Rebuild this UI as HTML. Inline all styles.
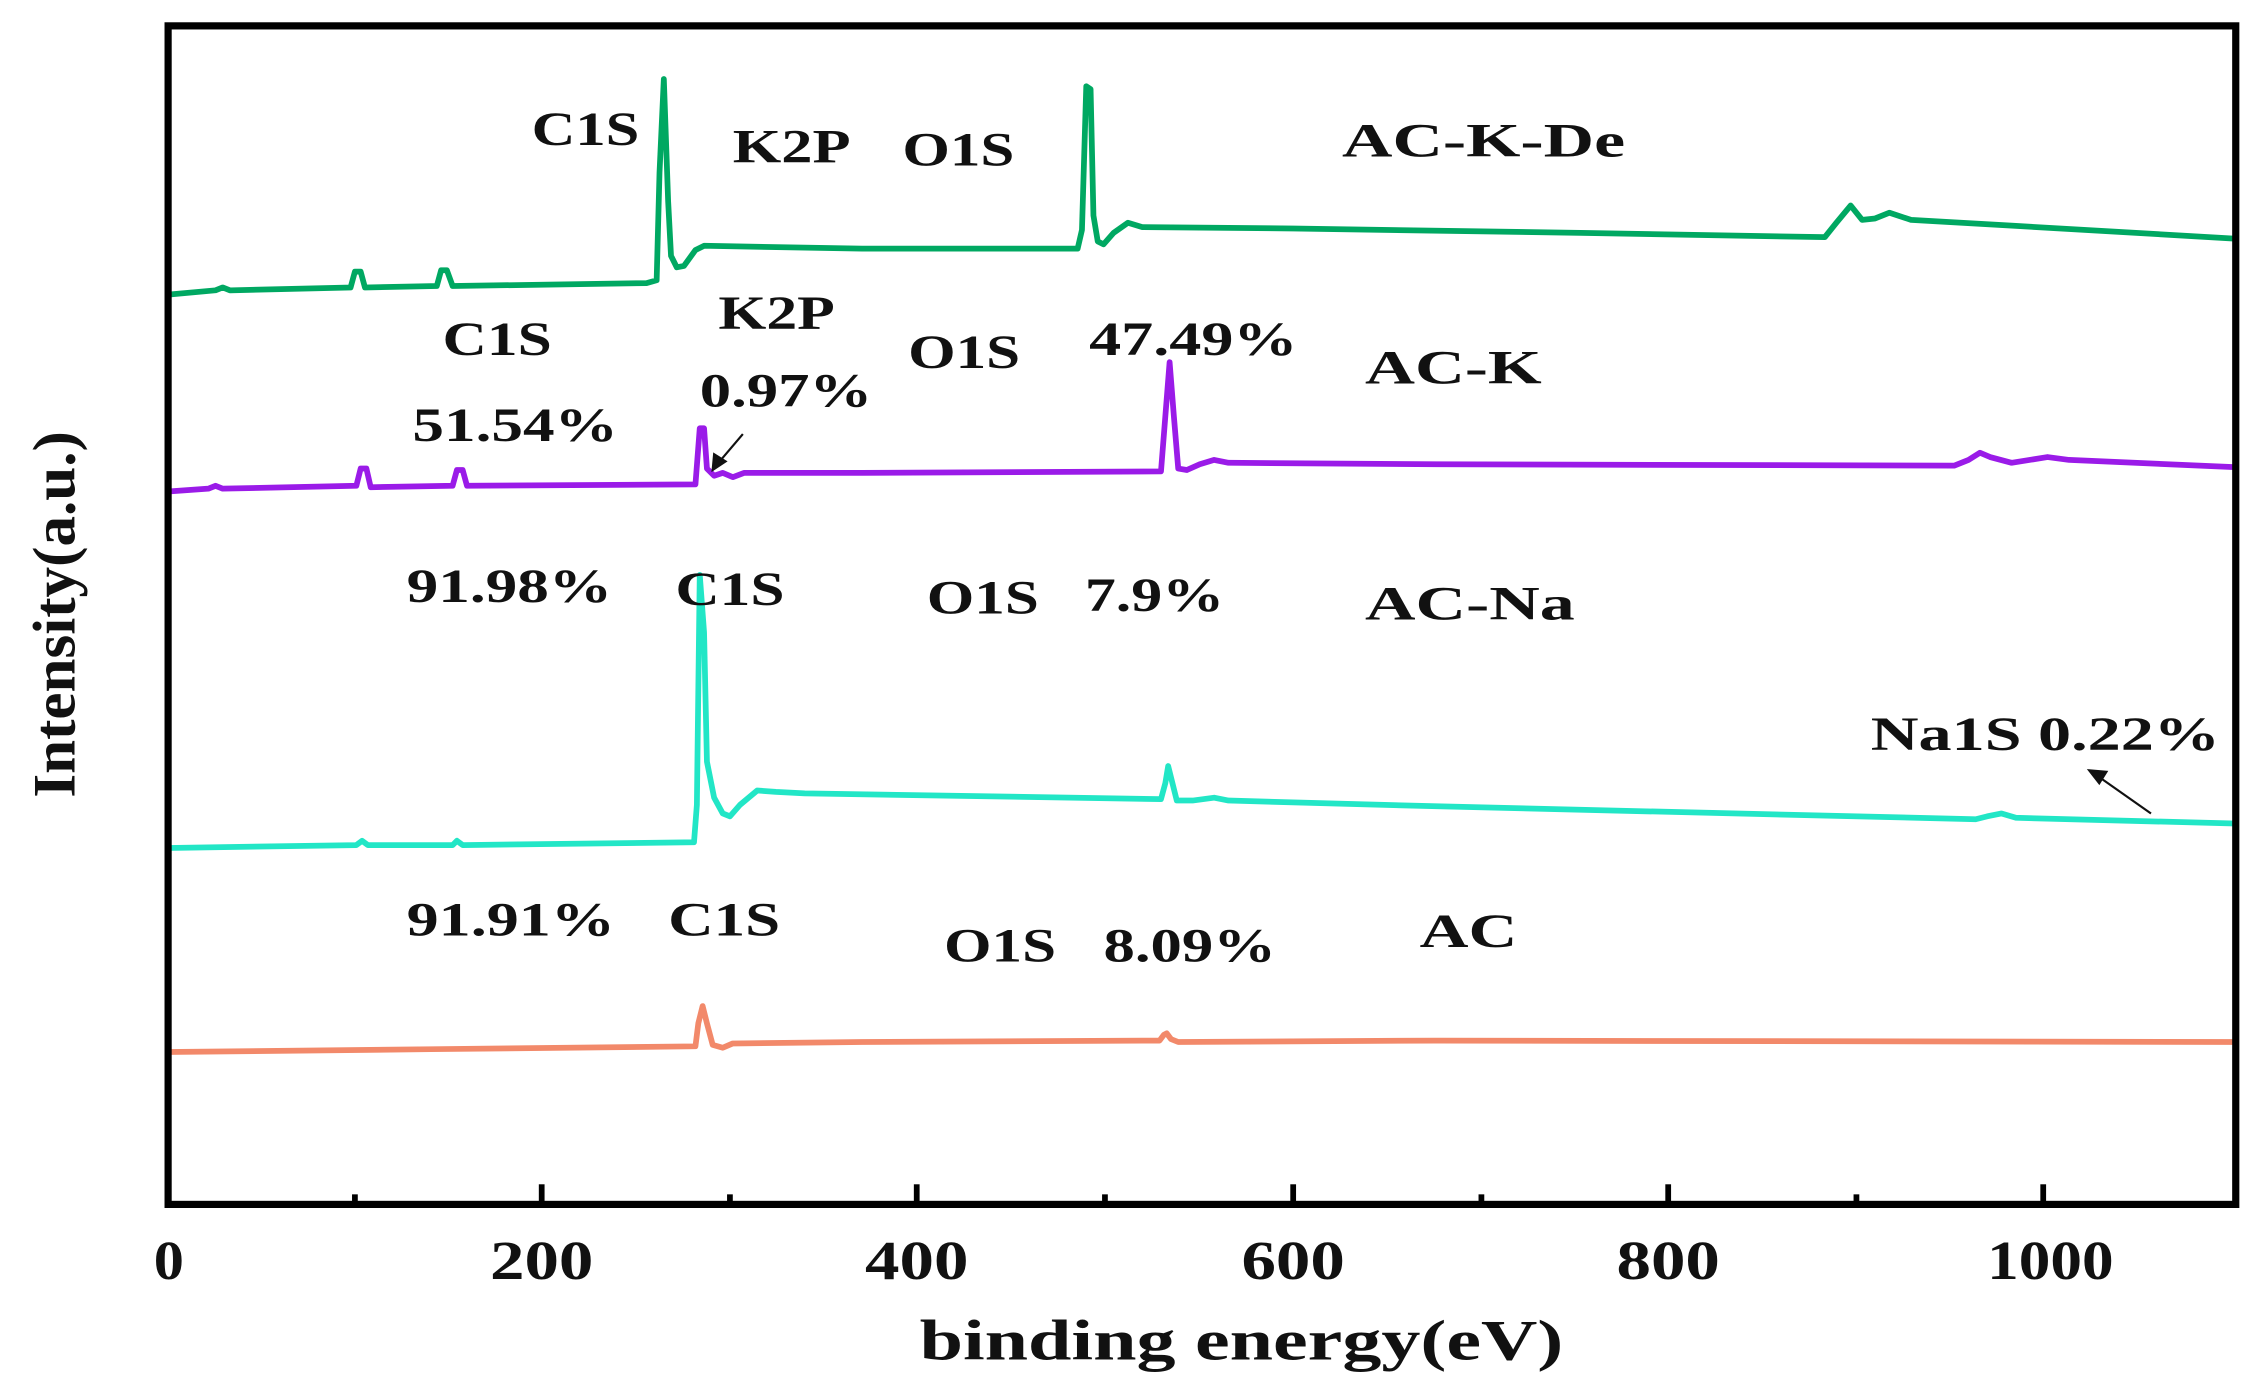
<!DOCTYPE html>
<html><head><meta charset="utf-8"><style>html,body{margin:0;padding:0;background:#fff}svg{display:block}
text{font-family:"Liberation Serif",serif;font-weight:bold;fill:#111}</style></head>
<body>
<svg width="2253" height="1397" viewBox="0 0 1568 972" preserveAspectRatio="none" xmlns="http://www.w3.org/2000/svg">
<rect width="1568" height="972" fill="#fff"/>
<g fill="none" stroke-linejoin="round" stroke-width="4">
<path stroke="#00a862" d="M117,205 L150,202 L155,200 L160,202 L244,200 L247,189 L251,189 L254,200 L304,199 L307,188 L311,188 L315,199 L450,197 L457,195 L459,120 L462,55 L465,140 L467,178 L471,186 L476,185 L484,174 L490,171 L600,173 L750,173 L753,160 L756,60 L759,62 L761,150 L764,168 L768,170 L775,162 L785,155 L795,158 L900,159 L1100,162 L1270,165 L1278,155 L1288,143 L1296,153 L1305,152 L1315,148 L1330,153 L1400,157 L1555,166"/>
<path stroke="#9a1be8" d="M117,342 L145,340 L150,338 L155,340 L248,338 L251,326 L255,326 L258,339 L315,338 L318,327 L322,327 L325,338 L484,337 L487,298 L490,298 L492,326 L497,331 L503,329 L510,332 L518,329 L600,329 L808,328 L811,290 L814,252 L817,290 L820,326 L826,327 L835,323 L845,320 L855,322 L1000,323 L1360,324 L1370,320 L1378,315 L1385,318 L1400,322 L1425,318 L1440,320 L1555,325"/>
<path stroke="#22e6c6" d="M117,590 L248,588 L252,585 L256,588 L315,588 L318,585 L322,588 L483,586 L485,560 L487,400 L490,440 L492,530 L497,555 L503,566 L508,568 L515,560 L527,550 L540,551 L560,552 L808,556 L811,545 L813,533 L816,545 L819,557 L830,557 L845,555 L855,557 L1000,561 L1375,570 L1383,568 L1393,566 L1403,569 L1555,573"/>
<path stroke="#f2896a" d="M117,732 L300,730 L484,728 L486,712 L489,700 L492,712 L496,727 L503,729 L510,726 L600,725 L807,724 L810,720 L812,719 L815,723 L820,725 L1000,724 L1555,725"/>
</g>
<g stroke="#111" fill="#111" stroke-width="1.5">
<line x1="517" y1="302" x2="500" y2="322"/><polygon points="496,327 497,316 505,321"/>
<line x1="1497" y1="566" x2="1460" y2="540"/><polygon points="1454,536 1466,537 1461,545"/>
</g>
<rect x="117" y="18" width="1439" height="820" fill="none" stroke="#000" stroke-width="5"/>
<g stroke="#000" stroke-width="4">
<line x1="377" y1="838" x2="377" y2="824"/><line x1="638" y1="838" x2="638" y2="824"/><line x1="900" y1="838" x2="900" y2="824"/><line x1="1161" y1="838" x2="1161" y2="824"/><line x1="1422" y1="838" x2="1422" y2="824"/>
<line x1="247" y1="838" x2="247" y2="831"/><line x1="508" y1="838" x2="508" y2="831"/><line x1="769" y1="838" x2="769" y2="831"/><line x1="1031" y1="838" x2="1031" y2="831"/><line x1="1292" y1="838" x2="1292" y2="831"/>
</g>
<g font-size="38" lengthAdjust="spacingAndGlyphs">
<text x="107" y="890" textLength="21" lengthAdjust="spacingAndGlyphs">0</text><text x="341" y="890" textLength="72" lengthAdjust="spacingAndGlyphs">200</text><text x="602" y="890" textLength="72" lengthAdjust="spacingAndGlyphs">400</text><text x="864" y="890" textLength="72" lengthAdjust="spacingAndGlyphs">600</text><text x="1125" y="890" textLength="72" lengthAdjust="spacingAndGlyphs">800</text><text x="1383" y="890" textLength="88" lengthAdjust="spacingAndGlyphs">1000</text>
</g>
<text x="640" y="946" font-size="40" textLength="448" lengthAdjust="spacingAndGlyphs">binding energy(eV)</text>
<text transform="translate(52,555) rotate(-90)" font-size="42" textLength="255" lengthAdjust="spacingAndGlyphs">Intensity(a.u.)</text>
<g font-size="33">
<text x="370" y="101" textLength="75" lengthAdjust="spacingAndGlyphs">C1S</text>
<text x="510" y="113" textLength="82" lengthAdjust="spacingAndGlyphs">K2P</text>
<text x="628" y="115" textLength="78" lengthAdjust="spacingAndGlyphs">O1S</text>
<text x="934" y="109" textLength="197" lengthAdjust="spacingAndGlyphs">AC-K-De</text>
<text x="308" y="247" textLength="76" lengthAdjust="spacingAndGlyphs">C1S</text>
<text x="500" y="229" textLength="81" lengthAdjust="spacingAndGlyphs">K2P</text>
<text x="632" y="256" textLength="78" lengthAdjust="spacingAndGlyphs">O1S</text>
<text x="758" y="247" textLength="145" lengthAdjust="spacingAndGlyphs">47.49%</text>
<text x="950" y="267" textLength="123" lengthAdjust="spacingAndGlyphs">AC-K</text>
<text x="287" y="307" textLength="143" lengthAdjust="spacingAndGlyphs">51.54%</text>
<text x="487" y="283" textLength="120" lengthAdjust="spacingAndGlyphs">0.97%</text>
<text x="283" y="419" textLength="143" lengthAdjust="spacingAndGlyphs">91.98%</text>
<text x="470" y="421" textLength="76" lengthAdjust="spacingAndGlyphs">C1S</text>
<text x="645" y="427" textLength="78" lengthAdjust="spacingAndGlyphs">O1S</text>
<text x="755" y="425" textLength="97" lengthAdjust="spacingAndGlyphs">7.9%</text>
<text x="950" y="431" textLength="146" lengthAdjust="spacingAndGlyphs">AC-Na</text>
<text x="1302" y="522" textLength="243" lengthAdjust="spacingAndGlyphs">Na1S  0.22%</text>
<text x="283" y="651" textLength="145" lengthAdjust="spacingAndGlyphs">91.91%</text>
<text x="465" y="651" textLength="78" lengthAdjust="spacingAndGlyphs">C1S</text>
<text x="657" y="669" textLength="78" lengthAdjust="spacingAndGlyphs">O1S</text>
<text x="768" y="669" textLength="120" lengthAdjust="spacingAndGlyphs">8.09%</text>
<text x="988" y="659" textLength="68" lengthAdjust="spacingAndGlyphs">AC</text>
</g>
</svg>
</body></html>
